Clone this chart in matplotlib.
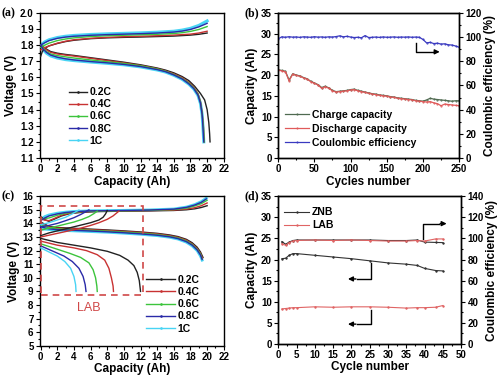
import numpy as np
import matplotlib
matplotlib.use("Agg")
import matplotlib.pyplot as plt
from matplotlib.lines import Line2D
from matplotlib.patches import Rectangle
from matplotlib.ticker import MultipleLocator, AutoMinorLocator

plt.rcParams['font.family'] = ['Liberation Sans', 'DejaVu Sans']
plt.rcParams['font.weight'] = 'bold'
plt.rcParams['axes.labelweight'] = 'bold'
plt.rcParams['font.size'] = 7
plt.rcParams['axes.linewidth'] = 1.0
plt.rcParams['xtick.major.size'] = 3
plt.rcParams['ytick.major.size'] = 3
plt.rcParams['xtick.minor.size'] = 1.5
plt.rcParams['ytick.minor.size'] = 1.5
plt.rcParams['xtick.major.pad'] = 1.5
plt.rcParams['ytick.major.pad'] = 1.5

rates = ['0.2C', '0.4C', '0.6C', '0.8C', '1C']
colors = ['#222222', '#c83232', '#3cc43c', '#2a2aa8', '#48d4f4']

# ---- (a) ZNB rate curves: (capacity Ah, voltage V)
a_dis_02 = [(0, 1.80), (0.3, 1.79), (0.7, 1.775), (1.2, 1.76), (2, 1.75), (3, 1.742), (4, 1.736), (6, 1.722),
            (8, 1.708), (10, 1.694), (12, 1.678), (14, 1.658), (15, 1.645), (16, 1.628), (17, 1.605),
            (17.8, 1.58), (18.5, 1.545), (19.2, 1.50), (19.7, 1.46), (20.0, 1.40), (20.2, 1.32),
            (20.3, 1.25), (20.35, 1.20)]
a_dis_04 = [(0, 1.80), (0.3, 1.785), (0.7, 1.77), (1.2, 1.755), (2, 1.745), (3, 1.738), (4, 1.732), (6, 1.718),
            (8, 1.704), (10, 1.69), (12, 1.674), (14, 1.654), (15, 1.64), (16, 1.622), (17, 1.598),
            (17.8, 1.57), (18.4, 1.54), (18.9, 1.50), (19.2, 1.45), (19.4, 1.38), (19.55, 1.30), (19.65, 1.20)]
a_dis_06 = [(0, 1.80), (0.3, 1.78), (0.7, 1.76), (1.2, 1.745), (2, 1.735), (3, 1.727), (4, 1.72), (6, 1.708),
            (8, 1.697), (10, 1.686), (12, 1.672), (14, 1.652), (15, 1.638), (16, 1.618), (17, 1.593),
            (17.8, 1.565), (18.4, 1.535), (18.9, 1.495), (19.2, 1.445), (19.4, 1.375), (19.55, 1.29), (19.65, 1.20)]
a_dis_08 = [(0, 1.80), (0.3, 1.775), (0.7, 1.755), (1.2, 1.738), (2, 1.725), (3, 1.715), (4, 1.708), (6, 1.698),
            (8, 1.69), (10, 1.68), (12, 1.667), (14, 1.648), (15, 1.635), (16, 1.615), (17, 1.59),
            (17.8, 1.56), (18.4, 1.53), (18.9, 1.49), (19.2, 1.44), (19.4, 1.37), (19.5, 1.29), (19.6, 1.20)]
a_dis_10 = [(0, 1.80), (0.3, 1.77), (0.7, 1.75), (1.2, 1.733), (2, 1.72), (3, 1.71), (4, 1.704), (6, 1.695),
            (8, 1.687), (10, 1.678), (12, 1.665), (14, 1.646), (15, 1.633), (16, 1.613), (17, 1.588),
            (17.8, 1.558), (18.4, 1.528), (18.9, 1.488), (19.2, 1.438), (19.4, 1.368), (19.5, 1.29), (19.6, 1.20)]
a_chg_02 = [(0, 1.73), (0.2, 1.76), (0.5, 1.78), (1, 1.795), (2, 1.81), (3, 1.822), (4, 1.83), (6, 1.84),
            (8, 1.845), (10, 1.848), (12, 1.85), (14, 1.853), (16, 1.856), (18, 1.862), (19, 1.867), (20, 1.875)]
a_chg_04 = [(0, 1.77), (0.5, 1.785), (1, 1.795), (2, 1.812), (3, 1.824), (4, 1.833), (6, 1.842), (8, 1.848),
            (10, 1.852), (12, 1.855), (14, 1.858), (16, 1.862), (18, 1.868), (19, 1.875), (20, 1.886)]
a_chg_06 = [(0, 1.785), (0.5, 1.80), (1, 1.812), (2, 1.828), (3, 1.838), (4, 1.845), (6, 1.853), (8, 1.858),
            (10, 1.861), (12, 1.864), (14, 1.867), (16, 1.872), (17, 1.877), (18, 1.885), (19, 1.897), (20, 1.915)]
a_chg_08 = [(0, 1.80), (0.5, 1.815), (1, 1.828), (2, 1.842), (3, 1.85), (4, 1.855), (6, 1.861), (8, 1.865),
            (10, 1.868), (12, 1.871), (14, 1.875), (16, 1.881), (17, 1.887), (18, 1.897), (19, 1.913), (20, 1.935)]
a_chg_10 = [(0, 1.80), (0.5, 1.82), (1, 1.833), (2, 1.847), (3, 1.855), (4, 1.86), (6, 1.866), (8, 1.87),
            (10, 1.873), (12, 1.876), (14, 1.88), (16, 1.886), (17, 1.893), (18, 1.904), (19, 1.922), (20, 1.95)]

# ---- (b) cycling, every 5 cycles
b_cycles = list(range(0, 251, 5))
b_discharge = [21.2, 21.0, 20.8, 18.6, 20.2, 19.9, 19.7, 19.3, 19.0, 18.4, 18.0, 17.6, 16.8, 17.2, 16.8, 16.2,
               15.9, 16.0, 16.1, 16.2, 16.4, 16.5, 16.2, 16.0, 15.8, 15.6, 15.4, 15.3, 15.1, 15.0, 14.9, 14.7,
               14.6, 14.4, 14.3, 14.2, 14.1, 14.0, 13.8, 13.7, 13.6, 13.5, 13.6, 13.3, 13.1, 12.6, 13.0, 12.9,
               12.8, 12.7, 12.6]
b_charge = [21.3, 21.1, 20.9, 18.8, 20.3, 20.0, 19.8, 19.4, 19.1, 18.5, 18.1, 17.7, 17.0, 17.3, 16.9, 16.3,
            16.0, 16.1, 16.2, 16.3, 16.5, 16.6, 16.3, 16.1, 15.9, 15.7, 15.5, 15.4, 15.2, 15.1, 15.0, 14.8,
            14.7, 14.5, 14.4, 14.3, 14.2, 14.1, 13.9, 13.8, 13.7, 14.0, 14.4, 14.2, 14.1, 14.0, 13.9, 13.8,
            13.7, 13.8, 13.8]
b_ce = [98.5, 100.2, 99.8, 100.3, 99.9, 100.1, 99.7, 100.2, 100.0, 99.8, 100.3, 99.9, 100.1, 99.8, 100.2,
        100.0, 100.4, 101.0, 100.2, 100.6, 100.0, 99.6, 99.8, 99.4, 101.2, 99.6, 99.8, 100.0, 99.7, 100.1, 99.8,
        99.9, 100.1, 99.8, 100.0, 99.9, 100.1, 99.8, 100.0, 99.8, 98.0, 95.2, 95.6, 94.6, 94.9, 94.2, 94.4,
        93.6, 93.4, 92.6, 91.6]

# ---- (c) ZNB (upper) and LAB (lower) rate curves
c_znb_chg_02 = [(0, 14.5), (0.4, 14.3), (1, 14.15), (1.6, 14.3), (2.5, 14.55), (3.5, 14.72), (5, 14.82), (7, 14.87),
                (10, 14.9), (13, 14.92), (16, 14.95), (17.5, 15.0), (18.5, 15.07), (19.3, 15.17), (20, 15.3)]
c_znb_chg_04 = [(0, 14.4), (0.4, 14.25), (1, 14.2), (1.6, 14.35), (2.5, 14.6), (3.5, 14.75), (5, 14.85), (7, 14.9),
                (10, 14.92), (13, 14.94), (16, 14.98), (17.5, 15.05), (18.5, 15.15), (19.3, 15.3), (20, 15.5)]
c_znb_chg_06 = [(0, 14.3), (0.4, 14.35), (1, 14.4), (2, 14.6), (3, 14.75), (4, 14.83), (6, 14.9), (10, 14.93),
                (13, 14.96), (16, 15.02), (17.5, 15.12), (18.5, 15.28), (19.3, 15.45), (20, 15.7)]
c_znb_chg_08 = [(0, 14.2), (0.5, 14.4), (1, 14.55), (2, 14.7), (3, 14.8), (4, 14.86), (6, 14.92), (10, 14.95),
                (13, 14.98), (16, 15.05), (17.5, 15.18), (18.5, 15.35), (19.3, 15.55), (19.9, 15.8)]
c_znb_chg_10 = [(0, 14.3), (0.5, 14.5), (1, 14.62), (2, 14.75), (3, 14.83), (4, 14.88), (6, 14.93), (10, 14.96),
                (13, 14.99), (16, 15.06), (17.5, 15.2), (18.5, 15.38), (19.3, 15.6), (19.9, 15.85)]
c_znb_dis_02 = [(0, 14.1), (1, 13.78), (2, 13.7), (4, 13.64), (6, 13.58), (8, 13.52), (10, 13.45), (12, 13.37),
                (14, 13.27), (15.5, 13.15), (16.5, 13.03), (17.5, 12.83), (18.2, 12.58), (18.8, 12.25),
                (19.2, 11.9), (19.5, 11.5)]
c_znb_dis_04 = [(0, 14.0), (1, 13.74), (2, 13.66), (4, 13.6), (6, 13.54), (8, 13.48), (10, 13.41), (12, 13.33),
                (14, 13.23), (15.5, 13.1), (16.5, 12.98), (17.5, 12.77), (18.2, 12.5), (18.8, 12.17),
                (19.2, 11.8), (19.45, 11.45)]
c_znb_dis_06 = [(0, 13.9), (1, 13.68), (2, 13.6), (4, 13.54), (6, 13.49), (8, 13.43), (10, 13.36), (12, 13.28),
                (14, 13.18), (15.5, 13.05), (16.5, 12.93), (17.5, 12.71), (18.2, 12.45), (18.8, 12.1),
                (19.2, 11.75), (19.4, 11.4)]
c_znb_dis_08 = [(0, 13.75), (1, 13.6), (2, 13.54), (4, 13.49), (6, 13.44), (8, 13.38), (10, 13.31), (12, 13.23),
                (14, 13.13), (15.5, 13.01), (16.5, 12.88), (17.5, 12.66), (18.2, 12.4), (18.8, 12.05),
                (19.2, 11.68), (19.4, 11.35)]
c_znb_dis_10 = [(0, 13.6), (1, 13.55), (2, 13.5), (4, 13.45), (6, 13.4), (8, 13.35), (10, 13.28), (12, 13.2),
                (14, 13.1), (15.5, 12.98), (16.5, 12.85), (17.5, 12.62), (18.2, 12.35), (18.8, 12.0),
                (19.2, 11.6), (19.4, 11.3)]
c_lab_chg_02 = [(0, 13.1), (1, 13.3), (2, 13.45), (3, 13.6), (4, 13.75), (5, 13.9), (6, 14.05), (7, 14.25),
                (7.5, 14.45), (7.8, 14.7), (8.0, 14.95)]
c_lab_chg_04 = [(0, 13.0), (1.5, 13.2), (3, 13.4), (4.5, 13.6), (6, 13.85), (7, 14.05), (8, 14.3), (8.7, 14.55),
                (9.1, 14.75), (9.4, 14.9)]
c_lab_chg_06 = [(0, 13.5), (1, 13.65), (2, 13.8), (3, 13.95), (4, 14.1), (5, 14.3), (5.8, 14.5), (6.4, 14.72),
                (6.8, 14.9)]
c_lab_chg_08 = [(0, 13.75), (1, 13.85), (2, 14.0), (3, 14.2), (4, 14.42), (4.8, 14.65), (5.4, 14.85), (5.8, 15.0)]
c_lab_chg_10 = [(0, 13.9), (1, 14.05), (2, 14.25), (3, 14.45), (3.8, 14.7), (4.3, 14.88), (4.6, 14.98)]
c_lab_dis_02 = [(0, 12.9), (2, 12.6), (4, 12.4), (6, 12.2), (8, 11.95), (9.5, 11.65), (10.5, 11.3), (11.2, 10.9),
                (11.6, 10.4), (11.85, 9.8), (12.0, 9.0)]
c_lab_dis_04 = [(0, 12.7), (2, 12.4), (4, 12.2), (5.5, 12.0), (6.8, 11.7), (7.7, 11.3), (8.2, 10.7), (8.5, 10.0),
                (8.7, 9.4), (8.75, 9.0)]
c_lab_dis_06 = [(0, 12.5), (2, 12.1), (3.5, 11.8), (4.8, 11.5), (5.8, 11.1), (6.3, 10.6), (6.6, 10.0),
                (6.75, 9.4), (6.8, 9.0)]
c_lab_dis_08 = [(0, 12.35), (1.5, 11.95), (2.8, 11.6), (3.8, 11.2), (4.6, 10.7), (5.1, 10.1), (5.35, 9.5),
                (5.45, 9.0)]
c_lab_dis_10 = [(0, 12.2), (1, 11.9), (2, 11.6), (2.9, 11.2), (3.6, 10.7), (4.0, 10.1), (4.2, 9.5), (4.25, 9.0)]

# ---- (d) ZNB vs LAB cycling
d_cycles = [1, 2, 3, 4, 5, 10, 15, 20, 25, 30, 35, 38, 40, 43, 45]
d_znb_cap = [20.2, 20.3, 21.0, 21.4, 21.4, 21.0, 20.6, 20.2, 19.7, 19.2, 18.9, 18.6, 17.9, 17.4, 17.3]
d_lab_cap = [8.3, 8.4, 8.5, 8.6, 8.6, 8.8, 8.7, 8.8, 8.8, 8.7, 8.5, 8.6, 8.6, 8.7, 9.1]
d_znb_ce = [97.0, 94.5, 96.5, 98.0, 98.5, 98.5, 98.5, 98.5, 98.5, 98.0, 98.0, 98.5, 96.5, 96.2, 96.0]
d_lab_ce = [95.0, 93.5, 96.0, 97.5, 98.0, 98.5, 98.0, 98.5, 98.0, 97.5, 97.5, 98.0, 97.5, 99.5, 99.5]

LEG = dict(loc='upper left', frameon=False, borderaxespad=0, handletextpad=0.25,
           prop={'size': 7.5, 'weight': 'bold'})


def style(ax):
    ax.tick_params(which='both', direction='out', width=0.8)
    ax.xaxis.set_minor_locator(AutoMinorLocator(2))
    ax.yaxis.set_minor_locator(AutoMinorLocator(2))


def rate_legend(ax, anchor, hl, ls):
    handles = [Line2D([], [], color=c, lw=1.0, marker='o', ms=0.9) for c in colors]
    ax.legend(handles, rates, bbox_to_anchor=anchor, handlelength=hl, labelspacing=ls, **LEG)


def curve(ax, pts, color, lw):
    q, v = zip(*pts)
    ax.plot(q, v, color=color, lw=lw, zorder=3 if lw < 2 else 2)


fig = plt.figure(figsize=(5.04, 3.78), dpi=100)

# (a)
ax = fig.add_axes([0.079, 0.582, 0.365, 0.384])
a_dis = [a_dis_02, a_dis_04, a_dis_06, a_dis_08, a_dis_10]
a_chg = [a_chg_02, a_chg_04, a_chg_06, a_chg_08, a_chg_10]
for i in range(5):
    lw = 2.2 if i == 4 else 1.0
    curve(ax, a_dis[i], colors[i], lw)
    curve(ax, a_chg[i], colors[i], lw)
ax.set_xlim(-0.1, 22)
ax.set_ylim(1.1, 2.0)
ax.xaxis.set_major_locator(MultipleLocator(2))
ax.yaxis.set_major_locator(MultipleLocator(0.1))
ax.set_xlabel('Capacity (Ah)', fontsize=8.5, labelpad=1)
ax.set_ylabel('Voltage (V)', fontsize=8.5, labelpad=2)
style(ax)
rate_legend(ax, (0.136, 0.516), 1.7, 0.2)

# (b)
ax = fig.add_axes([0.552, 0.582, 0.359, 0.384])
ax2 = ax.twinx()
ax.plot(b_cycles, b_charge, color='#4f6a50', lw=0.9, marker='.', ms=1.0, label='Charge capacity')
ax.plot(b_cycles, b_discharge, color='#e05a5a', lw=0.9, marker='.', ms=1.0, label='Discharge capacity')
ax2.plot(b_cycles, b_ce, color='#3a3ac0', lw=0.9, marker='.', ms=1.0)
ax.plot([], [], color='#3a3ac0', lw=0.9, marker='.', ms=1.0, label='Coulombic efficiency')
ax.set_xlim(0, 250)
ax.set_ylim(0, 35)
ax2.set_ylim(0, 120)
ax.xaxis.set_major_locator(MultipleLocator(50))
ax.yaxis.set_major_locator(MultipleLocator(5))
ax2.yaxis.set_major_locator(MultipleLocator(20))
ax.set_xlabel('Cycles number', fontsize=8.5, labelpad=1)
ax.set_ylabel('Capacity (Ah)', fontsize=8.5, labelpad=2)
ax2.set_ylabel('Coulombic efficiency (%)', fontsize=8.5, labelpad=2)
style(ax)
style(ax2)
ax.plot([191, 191, 214], [27.8, 25.6, 25.6], color='black', lw=1.0)
ax.annotate('', xy=(227, 25.6), xytext=(212, 25.6),
            arrowprops=dict(arrowstyle='-|>', color='black', lw=1.0, mutation_scale=7))
ax.legend(bbox_to_anchor=(0.017, 0.362), handlelength=2.3, labelspacing=0.38, **LEG)

# (c)
ax = fig.add_axes([0.079, 0.085, 0.365, 0.396])
c_groups = [
    [c_znb_chg_02, c_znb_chg_04, c_znb_chg_06, c_znb_chg_08, c_znb_chg_10],
    [c_znb_dis_02, c_znb_dis_04, c_znb_dis_06, c_znb_dis_08, c_znb_dis_10],
    [c_lab_chg_02, c_lab_chg_04, c_lab_chg_06, c_lab_chg_08, c_lab_chg_10],
    [c_lab_dis_02, c_lab_dis_04, c_lab_dis_06, c_lab_dis_08, c_lab_dis_10],
]
for gi, group in enumerate(c_groups):
    for i in range(5):
        lw = 2.0 if (i == 4 and gi < 2) else 1.0
        curve(ax, group[i], colors[i], lw)
ax.add_patch(Rectangle((0.05, 8.75), 12.25, 6.55, fill=False, ec='#d04848', lw=1.2,
                       ls=(0, (4, 3)), zorder=4))
ax.text(5.8, 7.8, 'LAB', color='#d04848', fontsize=9, fontweight='normal', ha='center', va='center')
ax.set_xlim(-0.1, 22)
ax.set_ylim(5, 16)
ax.xaxis.set_major_locator(MultipleLocator(2))
ax.yaxis.set_major_locator(MultipleLocator(1))
ax.set_xlabel('Capacity (Ah)', fontsize=8.5, labelpad=0.5)
ax.set_ylabel('Voltage (V)', fontsize=8.5, labelpad=2)
style(ax)
rate_legend(ax, (0.557, 0.502), 2.7, 0.21)

# (d)
ax = fig.add_axes([0.552, 0.09, 0.363, 0.391])
ax2 = ax.twinx()
ax.plot(d_cycles, d_znb_cap, color='#333333', lw=0.8, marker='+', ms=2, label='ZNB')
ax.plot(d_cycles, d_lab_cap, color='#e06464', lw=0.8, marker='+', ms=2, label='LAB')
ax2.plot(d_cycles, d_znb_ce, color='#333333', lw=0.8, marker='+', ms=2)
ax2.plot(d_cycles, d_lab_ce, color='#e06464', lw=0.8, marker='+', ms=2)
ax.set_xlim(0, 50)
ax.set_ylim(0, 35)
ax2.set_ylim(0, 140)
ax.xaxis.set_major_locator(MultipleLocator(5))
ax.yaxis.set_major_locator(MultipleLocator(5))
ax2.yaxis.set_major_locator(MultipleLocator(20))
ax.set_xlabel('Cycle number', fontsize=8.5, labelpad=0.5)
ax.set_ylabel('Capacity (Ah)', fontsize=8.5, labelpad=2)
ax2.set_ylabel('Coulombic efficiency (%)', fontsize=8.5, labelpad=2)
style(ax)
style(ax2)
arrow = dict(arrowstyle='-|>', color='black', lw=1.0, mutation_scale=7)
ax.plot([39.5, 39.5, 44], [24.8, 28.5, 28.5], color='black', lw=1.0)
ax.annotate('', xy=(46.8, 28.5), xytext=(43.5, 28.5), arrowprops=arrow)
for y_top, y_bot in [(19.2, 15.4), (8.1, 4.7)]:
    ax.plot([25.3, 25.3, 21.5], [y_top, y_bot, y_bot], color='black', lw=1.0)
    ax.annotate('', xy=(18.3, y_bot), xytext=(22, y_bot), arrowprops=arrow)
ax.legend(bbox_to_anchor=(0.011, 0.953), handlelength=2.4, labelspacing=0.3, **LEG)

for label, x, y in [('(a)', 0.002, 0.958), ('(b)', 0.485, 0.958), ('(c)', 0.002, 0.472), ('(d)', 0.485, 0.472)]:
    fig.text(x, y, label, family=['Liberation Serif', 'DejaVu Serif'], fontweight='bold', fontsize=8.5)

fig.savefig('out.png', dpi=100)
